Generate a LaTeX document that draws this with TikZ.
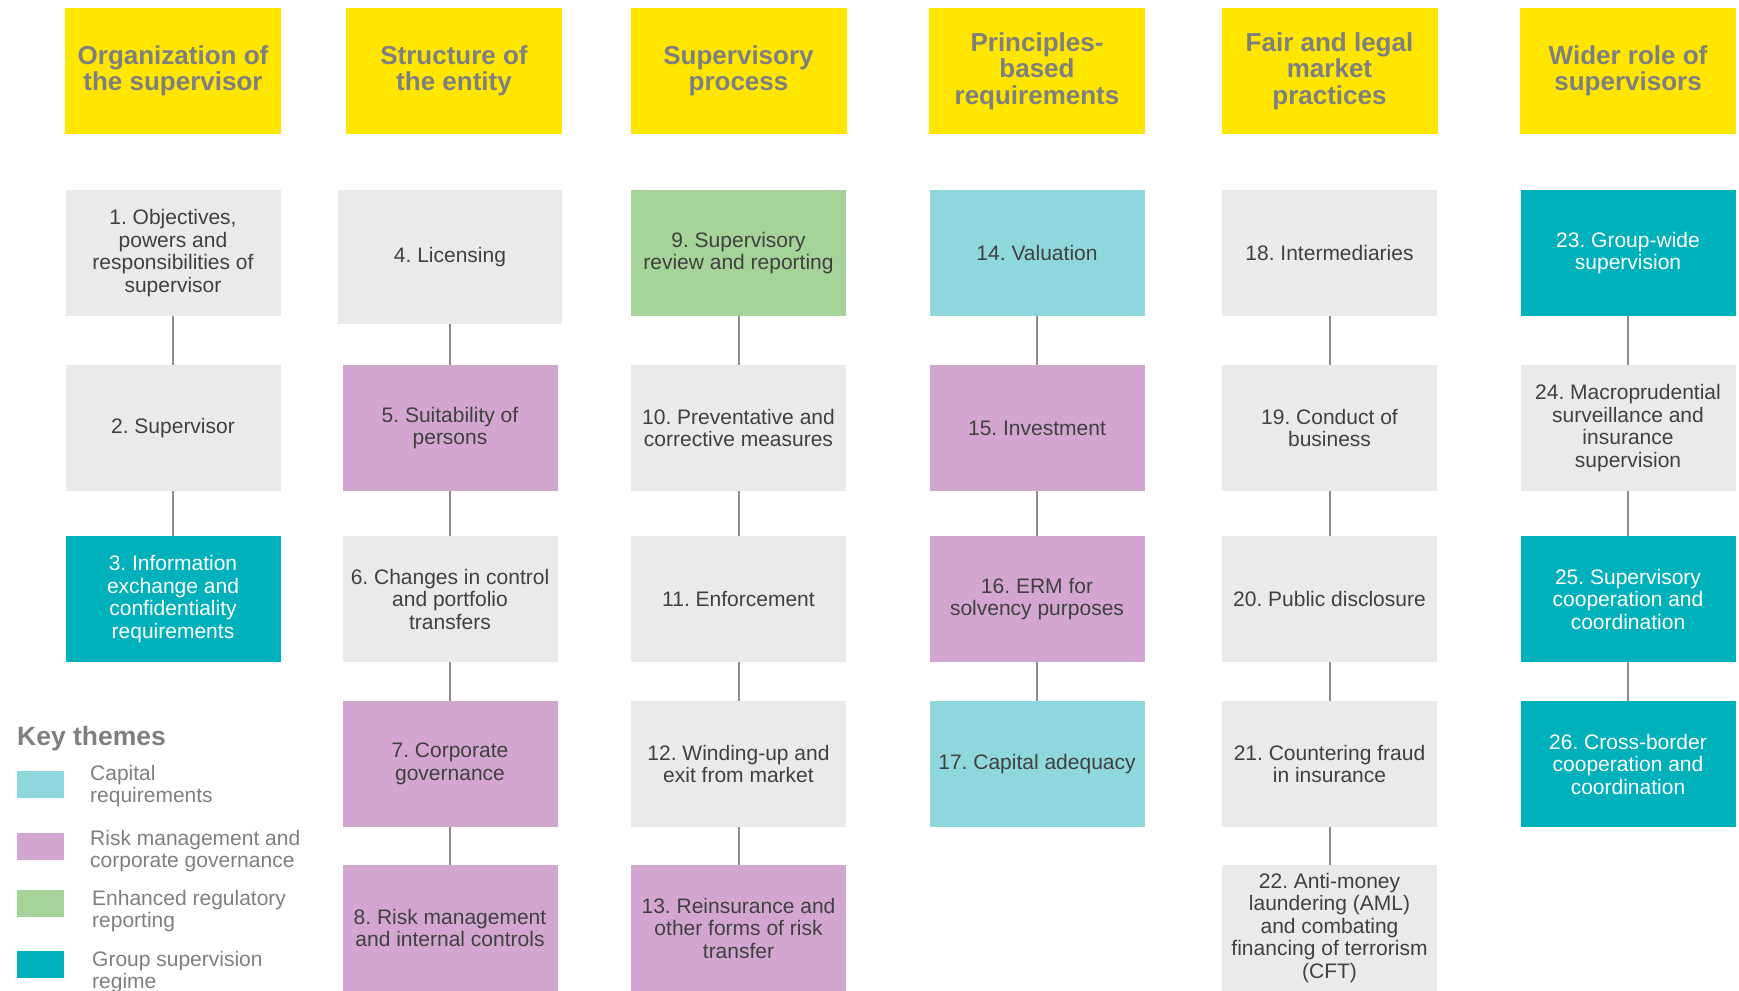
\documentclass[tikz,border=0pt]{standalone}
\usepackage{fontspec}
\setmainfont{Liberation Sans}
\frenchspacing
\definecolor{hdr}{HTML}{FFE600}
\definecolor{hdrtext}{HTML}{7F7F7F}
\definecolor{gbox}{HTML}{EAEAEA}
\definecolor{btext}{HTML}{404040}
\definecolor{capc}{HTML}{8ED8DD}
\definecolor{riskc}{HTML}{D2A6D0}
\definecolor{regc}{HTML}{A6D39A}
\definecolor{grpc}{HTML}{00B0BA}
\definecolor{linec}{HTML}{8C8C8C}
\tikzset{
  header/.style={fill=hdr, inner sep=0pt, minimum width=216pt, minimum height=126pt, align=center,
    text=hdrtext, font=\fontsize{26}{26.5}\selectfont\bfseries},
  item/.style={inner sep=0pt, minimum width=215pt, minimum height=126pt, align=center,
    text=btext, font=\fontsize{21}{22.5}\selectfont\frenchspacing},
  plain/.style={item, fill=gbox},
  capital/.style={item, fill=capc},
  risk/.style={item, fill=riskc},
  report/.style={item, fill=regc},
  group/.style={item, fill=grpc, text=white},
  conn/.style={draw=linec, line width=2pt},
  swatch/.style={inner sep=0pt, minimum width=47pt, minimum height=27pt},
  legtext/.style={anchor=west, align=left, inner sep=0pt, text=hdrtext, font=\fontsize{21}{22}\selectfont},
}
\begin{document}
\begin{tikzpicture}[x=1pt,y=-1pt]
\useasboundingbox (0,0) rectangle (1739,990);
\fill[white] (0,0) rectangle (1739,990);
% headers
\node[header] (h1) at (173,71) {Organization of\\the supervisor};
\node[header] (h2) at (454,71) {Structure of\\the entity};
\node[header] (h3) at (738.5,71) {Supervisory\\process};
\node[header] (h4) at (1037,71) {Principles-\\based\\requirements};
\node[header] (h5) at (1329.5,71) {Fair and legal\\market\\practices};
\node[header] (h6) at (1628,71) {Wider role of\\supervisors};
% column 1
\node[plain] (b1) at (173,253) {1. Objectives,\\powers and\\responsibilities of\\supervisor};
\node[plain] (b2) at (173,428) {2. Supervisor};
\node[group] (b3) at (173,599) {3. Information\\exchange and\\confidentiality\\requirements};
% column 2
\node[plain, minimum width=224pt, minimum height=134pt] (b4) at (450,257) {4. Licensing};
\node[risk] (b5) at (450,428) {5. Suitability of\\persons};
\node[plain] (b6) at (450,599) {6. Changes in control\\and portfolio\\transfers};
\node[risk] (b7) at (450,764) {7. Corporate\\governance};
\node[risk] (b8) at (450,928) {8. Risk management\\and internal controls};
% column 3
\node[report] (b9) at (738.5,253) {9. Supervisory\\review and reporting};
\node[plain] (b10) at (738.5,428) {10. Preventative and\\corrective measures};
\node[plain] (b11) at (738.5,599) {11. Enforcement};
\node[plain] (b12) at (738.5,764) {12. Winding-up and\\exit from market};
\node[risk] (b13) at (738.5,928) {13. Reinsurance and\\other forms of risk\\transfer};
% column 4
\node[capital] (b14) at (1037,253) {14. Valuation};
\node[risk] (b15) at (1037,428) {15. Investment};
\node[risk] (b16) at (1037,599) {16. ERM for\\solvency purposes};
\node[capital] (b17) at (1037,764) {17. Capital adequacy};
% column 5
\node[plain] (b18) at (1329.5,253) {18. Intermediaries};
\node[plain] (b19) at (1329.5,428) {19. Conduct of\\business};
\node[plain] (b20) at (1329.5,599) {20. Public disclosure};
\node[plain] (b21) at (1329.5,764) {21. Countering fraud\\in insurance};
\node[plain] (b22) at (1329.5,928) {22. Anti-money\\laundering (AML)\\and combating\\financing of terrorism\\(CFT)};
% column 6
\node[group] (b23) at (1628,253) {23. Group-wide\\supervision};
\node[plain] (b24) at (1628,428) {24. Macroprudential\\surveillance and\\insurance\\supervision};
\node[group] (b25) at (1628,599) {25. Supervisory\\cooperation and\\coordination};
\node[group] (b26) at (1628,764) {26. Cross-border\\cooperation and\\coordination};
% connectors
\foreach \a/\b in {b1/b2,b2/b3,b4/b5,b5/b6,b6/b7,b7/b8,b9/b10,b10/b11,b11/b12,b12/b13,
  b14/b15,b15/b16,b16/b17,b18/b19,b19/b20,b20/b21,b21/b22,b23/b24,b24/b25,b25/b26}
  \draw[conn] (\a.south) -- (\b.north);
% legend
\node[anchor=west, inner sep=0pt, text=hdrtext, font=\fontsize{26.5}{28}\selectfont\bfseries] (kt) at (17,739) {Key themes};
\node[swatch, fill=capc, anchor=north west] (s1) at (17,771) {};
\node[swatch, fill=riskc, anchor=north west] (s2) at (17,833) {};
\node[swatch, fill=regc, anchor=north west] (s3) at (17,890) {};
\node[swatch, fill=grpc, anchor=north west] (s4) at (17,951) {};
\node[legtext] (l1) at (90,786) {Capital\\requirements};
\node[legtext] (l2) at (90,851) {Risk management and\\corporate governance};
\node[legtext] (l3) at (92,911) {Enhanced regulatory\\reporting};
\node[legtext] (l4) at (92,972) {Group supervision\\regime};
\end{tikzpicture}
\end{document}
